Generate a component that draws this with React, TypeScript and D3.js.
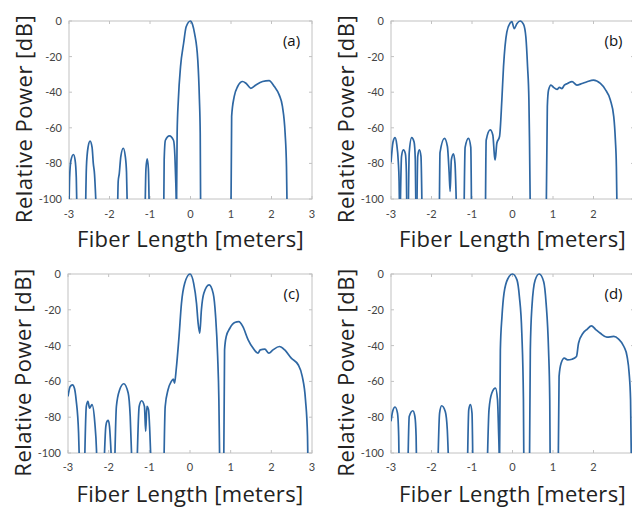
import * as d3 from "d3";

type Pt = [number, number];

// x in meters, y in dB. each lobe drops below the -100 floor at its ends
const lobesA: Pt[][] = [
  [[-3.0, -105], [-2.985, -88], [-2.95, -78], [-2.89, -75], [-2.85, -78], [-2.82, -88], [-2.805, -105]],
  [[-2.59, -105], [-2.57, -82], [-2.53, -71], [-2.48, -67.5], [-2.43, -71], [-2.4, -80], [-2.37, -86], [-2.33, -105]],
  [[-1.8, -105], [-1.785, -90], [-1.76, -86], [-1.72, -76], [-1.66, -71.5], [-1.61, -76], [-1.58, -85], [-1.56, -105]],
  [[-1.12, -105], [-1.1, -83], [-1.07, -77.5], [-1.04, -83], [-1.02, -105]],
  [[-0.66, -105], [-0.65, -78], [-0.62, -67], [-0.52, -64.5], [-0.42, -67], [-0.385, -76], [-0.36, -93], [-0.345, -105]],
  [[-0.345, -105], [-0.33, -63], [-0.3, -44.3], [-0.246, -25.6], [-0.17, -12.5], [-0.107, -3.2], [0, 0], [0.05, -2], [0.1, -7], [0.18, -22], [0.22, -44], [0.24, -63], [0.25, -105]],
  [[1.0, -105], [1.016, -53.6], [1.08, -42.4], [1.164, -36.8], [1.287, -34], [1.37, -35], [1.49, -37.8], [1.615, -35.9], [1.78, -34], [1.94, -33.5], [2.07, -36.8], [2.19, -41.5], [2.27, -48], [2.336, -63], [2.37, -81.9], [2.385, -105]],
];

const lobesB: Pt[][] = [
  [[-3.0, -79.5], [-2.95, -68], [-2.9, -65.5], [-2.86, -69], [-2.82, -79], [-2.8, -90], [-2.79, -105]],
  [[-2.77, -105], [-2.74, -76], [-2.695, -72.4], [-2.645, -74.5], [-2.62, -85], [-2.61, -105]],
  [[-2.572, -105], [-2.55, -74], [-2.49, -65.5], [-2.43, -68], [-2.4, -78], [-2.385, -105]],
  [[-2.36, -105], [-2.34, -76], [-2.3, -72.4], [-2.26, -76], [-2.235, -105]],
  [[-1.805, -105], [-1.79, -74], [-1.68, -65.9], [-1.607, -70.5], [-1.565, -85], [-1.54, -95.7], [-1.51, -78], [-1.458, -74.6], [-1.42, -80], [-1.385, -105]],
  [[-1.195, -105], [-1.17, -71], [-1.087, -65.9], [-1.03, -71], [-1.013, -105]],
  [[-0.667, -105], [-0.65, -67], [-0.55, -61.2], [-0.486, -64], [-0.444, -76], [-0.428, -78], [-0.387, -68.7], [-0.32, -64.9], [-0.263, -44.4], [-0.222, -25.7], [-0.14, -6.2], [-0.057, -1.1], [-0.016, -0.4], [0.042, -4.3], [0.108, -1.5], [0.19, 0], [0.273, -1.9], [0.33, -9], [0.372, -25.7], [0.405, -44.4], [0.42, -66.8], [0.438, -105]],
  [[0.834, -105], [0.86, -48], [0.89, -38.8], [0.95, -36], [1.015, -37.3], [1.1, -38.4], [1.16, -37.3], [1.22, -38], [1.28, -36], [1.36, -35.1], [1.47, -34.1], [1.59, -36], [1.715, -35.1], [1.84, -34.1], [2.0, -33.2], [2.17, -35.1], [2.29, -38.4], [2.416, -44.4], [2.5, -53.7], [2.54, -66.8], [2.565, -81.7], [2.58, -105]],
];

const lobesC: Pt[][] = [
  [[-3.0, -68.4], [-2.95, -63], [-2.89, -61.9], [-2.84, -64], [-2.8, -70.3], [-2.74, -88.8], [-2.72, -105]],
  [[-2.59, -105], [-2.55, -74], [-2.51, -71.2], [-2.47, -74.9], [-2.41, -73], [-2.34, -83.3], [-2.3, -98], [-2.29, -105]],
  [[-2.11, -105], [-2.07, -85.1], [-2.04, -82.3], [-2.01, -81.8], [-1.98, -85.1], [-1.93, -105]],
  [[-1.85, -105], [-1.81, -74], [-1.73, -64.7], [-1.63, -61.3], [-1.52, -66.5], [-1.47, -79.6], [-1.43, -105]],
  [[-1.3, -105], [-1.25, -74], [-1.19, -70.8], [-1.12, -74], [-1.09, -87.9], [-1.06, -74], [-1.02, -75.8], [-0.99, -87], [-0.96, -105]],
  [[-0.64, -105], [-0.61, -74], [-0.54, -64.7], [-0.46, -60], [-0.41, -58.7], [-0.38, -61], [-0.34, -53.5], [-0.27, -35], [-0.21, -16.4], [-0.13, -5.2], [0, 0], [0.09, -5.2], [0.16, -16.4], [0.2, -27.5], [0.24, -33.1], [0.28, -20.1], [0.34, -10.8], [0.47, -6.1], [0.57, -10.8], [0.63, -23.8], [0.68, -46.1], [0.71, -70.3], [0.73, -105]],
  [[0.83, -105], [0.85, -42.4], [0.89, -35], [0.98, -30.3], [1.1, -27.1], [1.2, -26.6], [1.3, -29.4], [1.43, -36.8], [1.55, -41.4], [1.67, -44.2], [1.73, -42.4], [1.84, -42], [1.94, -44.2], [2.04, -42.4], [2.2, -40.5], [2.33, -42.4], [2.49, -47], [2.66, -50.7], [2.76, -57.2], [2.84, -70.3], [2.89, -90.7], [2.9, -105]],
];

const lobesD: Pt[][] = [
  [[-3.0, -82.3], [-2.96, -76.8], [-2.9, -74.3], [-2.84, -77.7], [-2.81, -90.7], [-2.8, -105]],
  [[-2.58, -105], [-2.55, -79.6], [-2.46, -76.4], [-2.41, -79.6], [-2.38, -90.7], [-2.37, -105]],
  [[-1.84, -105], [-1.8, -77.7], [-1.75, -73.6], [-1.66, -76.8], [-1.61, -87], [-1.58, -105]],
  [[-1.11, -105], [-1.08, -75.8], [-1.04, -73], [-1.0, -77.7], [-0.98, -105]],
  [[-0.62, -105], [-0.58, -75.8], [-0.51, -66.5], [-0.42, -63.8], [-0.37, -70.3], [-0.34, -90.7], [-0.32, -105]],
  [[-0.32, -105], [-0.3, -42.4], [-0.26, -23.8], [-0.21, -10.8], [-0.11, -2.4], [0, 0], [0.11, -3.3], [0.17, -12.6], [0.23, -33.1], [0.27, -70.3], [0.28, -105]],
  [[0.42, -105], [0.44, -42.4], [0.48, -18.2], [0.56, -3.3], [0.66, 0], [0.77, -4.3], [0.83, -16.4], [0.89, -42.4], [0.92, -70.3], [0.93, -105]],
  [[1.13, -105], [1.15, -57.2], [1.2, -49.8], [1.28, -47], [1.36, -48], [1.47, -47.6], [1.58, -46.1], [1.63, -38.7], [1.74, -33.1], [1.84, -30.9], [1.95, -29], [2.05, -30.9], [2.17, -33.1], [2.33, -35.3], [2.5, -34.9], [2.62, -36.4], [2.75, -40.5], [2.83, -46.1], [2.88, -55.4], [2.915, -70.3], [2.935, -105]],
];

const xTicks = [-3, -2, -1, 0, 1, 2, 3];
const yTicks = [0, -20, -40, -60, -80, -100];

const LINE = "#2e67a3";
const FRAME = "#c2c2c2";
const TITLE_FONT = "'Open Sans', 'DejaVu Sans', sans-serif";
const TICK_FONT = "Lato, 'Open Sans', sans-serif";

function Panel({ id, lobes, left, right, top, bottom, label, tickOff, titleOff }: any) {
  const x = d3.scaleLinear().domain([-3, 3]).range([left, right]);
  const y = d3.scaleLinear().domain([-100, 0]).range([bottom, top]);
  const line = d3.line<Pt>().x((d) => x(d[0])).y((d) => y(d[1])).curve(d3.curveMonotoneX);
  const cx = (left + right) / 2;
  const cy = (top + bottom) / 2;
  const tl = 3;

  return (
    <g>
      <defs>
        <clipPath id={"clip" + id}>
          <rect x={left} y={top - 2} width={right - left} height={bottom - top + 2} />
        </clipPath>
      </defs>
      <rect x={left} y={top} width={right - left} height={bottom - top} fill="none" stroke={FRAME} strokeWidth={1} />
      {xTicks.map((t) => (
        <g key={"x" + t}>
          <line x1={x(t)} x2={x(t)} y1={bottom} y2={bottom - tl} stroke={FRAME} />
          <line x1={x(t)} x2={x(t)} y1={top} y2={top + tl} stroke={FRAME} />
          {x(t) < 632 && (
            <text x={x(t)} y={bottom + tickOff} textAnchor="middle" fontSize={11} fill="#444" fontFamily={TICK_FONT}>
              {t}
            </text>
          )}
        </g>
      ))}
      {yTicks.map((t) => (
        <g key={"y" + t}>
          <line x1={left} x2={left + tl} y1={y(t)} y2={y(t)} stroke={FRAME} />
          <line x1={right} x2={right - tl} y1={y(t)} y2={y(t)} stroke={FRAME} />
          <text x={left - 7} y={y(t) + 4} textAnchor="end" fontSize={11} fill="#444" fontFamily={TICK_FONT}>
            {t}
          </text>
        </g>
      ))}
      <g clipPath={`url(#clip${id})`}>
        {lobes.map((l: Pt[], i: number) => (
          <path key={i} d={line(l) || ""} fill="none" stroke={LINE} strokeWidth={1.7} />
        ))}
      </g>
      <text x={right - 20.5} y={top + 25} textAnchor="middle" fontSize={15} fill="#111" fontFamily={TITLE_FONT}>
        {label}
      </text>
      <text x={cx} y={bottom + titleOff} textAnchor="middle" fontSize={22} letterSpacing={0.3} fill="#222" fontFamily={TITLE_FONT}>
        Fiber Length [meters]
      </text>
      <text
        transform={`translate(${left - 37},${cy + 9}) rotate(-90)`}
        textAnchor="middle"
        fontSize={22}
        letterSpacing={0.5}
        fill="#222"
        fontFamily={TITLE_FONT}
      >
        Relative Power [dB]
      </text>
    </g>
  );
}

export default function App() {
  return (
    <svg width={632} height={508} style={{ position: "fixed", left: 0, top: 0, background: "#fff" }}>
      <rect width={632} height={508} fill="#fff" />
      <Panel id="a" lobes={lobesA} left={69} right={312} top={21} bottom={199} label="(a)" tickOff={19} titleOff={48} />
      <Panel id="b" lobes={lobesB} left={391} right={634} top={21} bottom={199} label="(b)" tickOff={19} titleOff={48} />
      <Panel id="c" lobes={lobesC} left={68} right={312} top={274} bottom={453} label="(c)" tickOff={18} titleOff={49} />
      <Panel id="d" lobes={lobesD} left={391} right={634} top={274} bottom={453} label="(d)" tickOff={18} titleOff={49} />
    </svg>
  );
}
